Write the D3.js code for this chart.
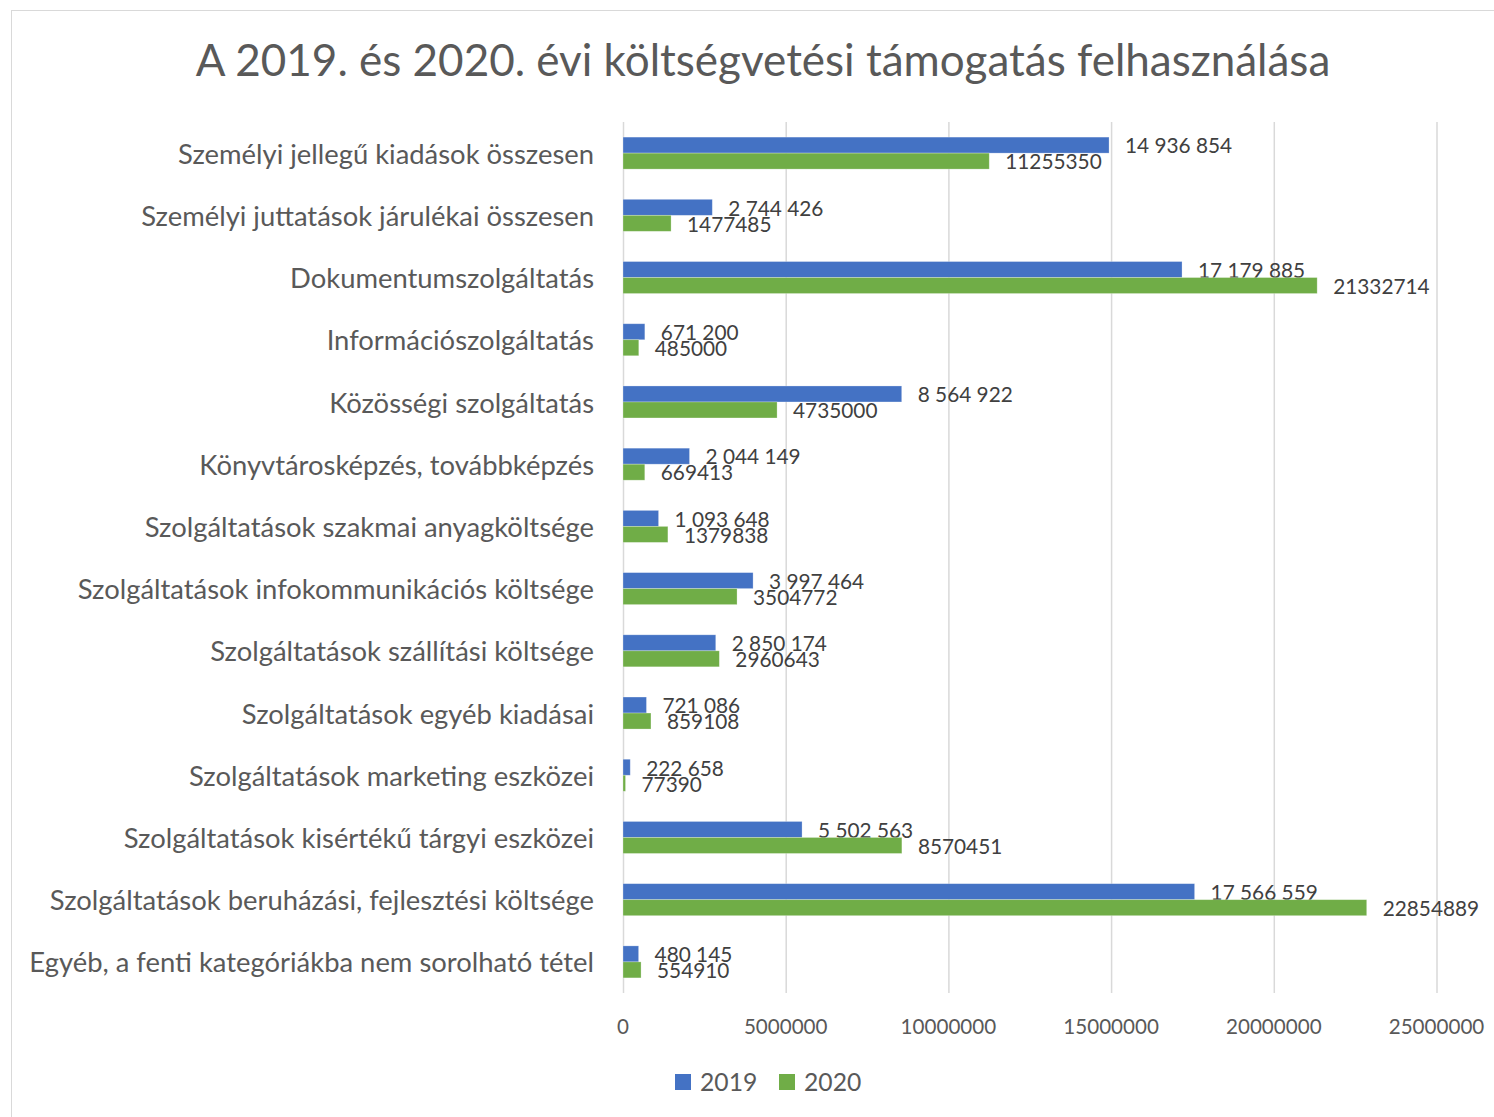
<!DOCTYPE html>
<html><head><meta charset="utf-8">
<script src="https://cdn.jsdelivr.net/npm/d3@7"></script>
<style>html,body{margin:0;padding:0;background:#fff;}svg{display:block;}</style>
</head><body>
<svg id="chart" width="1494" height="1117"></svg>
<script>
const categories = [
  "Személyi jellegű kiadások összesen",
  "Személyi juttatások járulékai összesen",
  "Dokumentumszolgáltatás",
  "Információszolgáltatás",
  "Közösségi szolgáltatás",
  "Könyvtárosképzés, továbbképzés",
  "Szolgáltatások szakmai anyagköltsége",
  "Szolgáltatások infokommunikációs költsége",
  "Szolgáltatások szállítási költsége",
  "Szolgáltatások egyéb kiadásai",
  "Szolgáltatások marketing eszközei",
  "Szolgáltatások kisértékű tárgyi eszközei",
  "Szolgáltatások beruházási, fejlesztési költsége",
  "Egyéb, a fenti kategóriákba nem sorolható tétel"
];
const values2019 = [14936854, 2744426, 17179885, 671200, 8564922, 2044149, 1093648, 3997464, 2850174, 721086, 222658, 5502563, 17566559, 480145];
const values2020 = [11255350, 1477485, 21332714, 485000, 4735000, 669413, 1379838, 3504772, 2960643, 859108, 77390, 8570451, 22854889, 554910];
const seriesNames = ["2019", "2020"];
const xTicks = [0, 5000000, 10000000, 15000000, 20000000, 25000000];
const title = "A 2019. és 2020. évi költségvetési támogatás felhasználása";

const colors = ["#4472C4", "#70AD47"];
const font = "Lato, 'Open Sans', sans-serif";
const svg = d3.select("#chart");

// chart frame
svg.append("rect").attr("x", 11.5).attr("y", 10.5).attr("width", 1600).attr("height", 1200)
  .attr("fill", "#fff").attr("stroke", "#d9d9d9").attr("stroke-width", 1);

const x = d3.scaleLinear().domain([0, 25000000]).range([623, 1436.5]);
const y = d3.scaleBand().domain(categories).range([122, 993]).paddingInner(0).paddingOuter(0);
const barH = 16;

// title
svg.append("text").attr("x", 763).attr("y", 76).attr("text-anchor", "middle")
  .attr("font-family", font).attr("font-size", 44).attr("fill", "#595959").text(title);

// gridlines
svg.append("g").selectAll("line").data(xTicks).join("line")
  .attr("x1", d => x(d) + 0.5).attr("x2", d => x(d) + 0.5)
  .attr("y1", 122).attr("y2", 993)
  .attr("stroke", "#d9d9d9").attr("stroke-width", 1.5);

// x tick labels
const fmtTick = d3.format("d");
svg.append("g").selectAll("text").data(xTicks).join("text")
  .attr("x", d => x(d)).attr("y", 1027).attr("dy", "0.35em").attr("text-anchor", "middle")
  .attr("font-family", font).attr("font-size", 20.6).attr("fill", "#595959")
  .text(d => fmtTick(d));

// category labels
svg.append("g").selectAll("text").data(categories).join("text")
  .attr("x", 594).attr("y", d => y(d) + y.bandwidth() / 2 + 1).attr("dy", "0.35em")
  .attr("text-anchor", "end").attr("font-family", font).attr("font-size", 27.4)
  .attr("fill", "#595959").text(d => d);

const rows = categories.map((c, i) => ({ c, v: [values2019[i], values2020[i]] }));
const locale = d3.formatLocale({ decimal: ",", thousands: "\u00a0", grouping: [3], currency: ["", ""] });
const fmt2019 = locale.format(",d");
const fmt2020 = d3.format("d");
const fmts = [fmt2019, fmt2020];

[0, 1].forEach(s => {
  const g = svg.append("g");
  g.selectAll("rect").data(rows).join("rect")
    .attr("x", x(0)).attr("y", d => y(d.c) + y.bandwidth() / 2 - barH + s * barH)
    .attr("width", d => x(d.v[s]) - x(0)).attr("height", barH)
    .attr("fill", colors[s]).attr("stroke", "#fff").attr("stroke-opacity", 0.35).attr("stroke-width", 0.75);
  g.selectAll("text").data(rows).join("text")
    .attr("x", d => x(d.v[s]) + 16)
    .attr("y", d => y(d.c) + y.bandwidth() / 2 - barH / 2 + s * barH + 1)
    .attr("dy", "0.35em").attr("font-family", font).attr("font-size", 20.8)
    .attr("fill", "#404040").text(d => fmts[s](d.v[s]));
});

// legend
const legend = svg.append("g");
const legX = [675, 779];
seriesNames.forEach((n, i) => {
  legend.append("rect").attr("x", legX[i]).attr("y", 1074).attr("width", 16).attr("height", 16).attr("fill", colors[i]);
  legend.append("text").attr("x", legX[i] + 25).attr("y", 1082).attr("dy", "0.35em")
    .attr("font-family", font).attr("font-size", 24.7).attr("fill", "#595959").text(n);
});
</script>
</body></html>
